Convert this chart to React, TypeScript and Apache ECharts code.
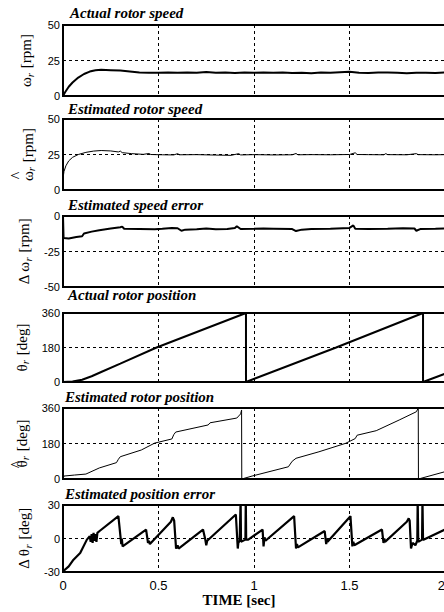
import React, { useEffect, useRef } from "react";
import * as echarts from "echarts";

const TITLES = [
  "Actual rotor speed",
  "Estimated rotor speed",
  "Estimated speed error",
  "Actual rotor position",
  "Estimated rotor position",
  "Estimated position error",
];

const X_TICKS = [0, 0.5, 1, 1.5, 2];

const speedActual: [number, number][] = [
  [0, 0], [0.01, 2.5], [0.03, 6.5], [0.05, 9.5], [0.08, 13], [0.11, 15.5], [0.14, 17.2],
  [0.17, 18.1], [0.2, 18.4], [0.25, 18.2], [0.3, 17.9], [0.35, 17.3], [0.4, 16.6],
  [0.45, 16.3], [0.5, 16.4], [0.55, 16.6], [0.6, 16.3], [0.65, 16.6], [0.7, 16.4],
  [0.75, 16.9], [0.8, 16.4], [0.85, 16.5], [0.9, 16.2], [0.95, 16.5], [1.0, 16.3],
  [1.05, 16.5], [1.1, 16.4], [1.15, 16.6], [1.2, 16.2], [1.25, 16.4], [1.3, 16.1],
  [1.35, 16.5], [1.4, 16.3], [1.45, 16.7], [1.5, 17.0], [1.55, 16.4], [1.6, 16.2],
  [1.65, 16.5], [1.7, 16.6], [1.75, 16.3], [1.8, 16.0], [1.85, 16.4], [1.9, 16.3],
  [1.95, 16.2], [2.0, 16.5],
];

const speedEstimated: [number, number][] = [
  [0, 8], [0.005, 13], [0.015, 17], [0.03, 20.5], [0.05, 23], [0.08, 25], [0.12, 26.5],
  [0.16, 27.4], [0.2, 27.8], [0.25, 27.5], [0.29, 26.8], [0.3, 27.4], [0.31, 26.3],
  [0.36, 25.6], [0.42, 25.1], [0.45, 25.7], [0.46, 25.0], [0.52, 24.8], [0.58, 24.7],
  [0.6, 25.6], [0.61, 24.8], [0.7, 24.9], [0.8, 24.6], [0.88, 24.4], [0.92, 25.6],
  [0.93, 24.7], [1.0, 24.9], [1.1, 24.7], [1.2, 24.8], [1.22, 25.7], [1.23, 24.8],
  [1.3, 24.9], [1.4, 24.8], [1.5, 25.0], [1.53, 26.2], [1.54, 25.0], [1.6, 24.9],
  [1.68, 24.8], [1.69, 25.6], [1.7, 24.9], [1.8, 24.8], [1.85, 25.6], [1.86, 24.9],
  [1.95, 24.8], [2.0, 24.9],
];

const speedError: [number, number][] = [
  [0, 0], [0.003, -15.5], [0.03, -15.8], [0.07, -14.8], [0.1, -14.3], [0.11, -12.3],
  [0.15, -11], [0.19, -10], [0.25, -8.8], [0.3, -7.9], [0.31, -7.5], [0.32, -9],
  [0.4, -9.1], [0.48, -9.4], [0.52, -9.0], [0.57, -8.4], [0.6, -8.6], [0.62, -10.4],
  [0.64, -9.6], [0.7, -9.3], [0.75, -8.8], [0.8, -9.4], [0.86, -9.2], [0.9, -8.4],
  [0.91, -7.2], [0.93, -9.2], [1.0, -9.0], [1.05, -8.8], [1.1, -8.9], [1.2, -9.2],
  [1.22, -10.6], [1.25, -9.6], [1.3, -9.2], [1.4, -8.9], [1.5, -8.4], [1.52, -6.6],
  [1.53, -9.0], [1.6, -9.1], [1.7, -9.0], [1.78, -8.6], [1.84, -8.8], [1.85, -10.4],
  [1.87, -9.2], [1.95, -9.0], [2.0, -8.8],
];

const posActual: [number, number][] = [
  [0, 60], [0, 0], [0.05, 3], [0.1, 12], [0.15, 30], [0.2, 52], [0.3, 96], [0.49, 180],
  [0.958, 360], [0.958, 0], [1.43, 180], [1.885, 360], [1.885, 0], [2.0, 43],
];

const posEstimated: [number, number][] = [
  [0, 0], [0.005, 15], [0.06, 20], [0.12, 25], [0.19, 56], [0.28, 83], [0.29, 100],
  [0.3, 113], [0.41, 147], [0.48, 182], [0.57, 203], [0.58, 225], [0.59, 238],
  [0.76, 274], [0.77, 285], [0.91, 309], [0.93, 330], [0.935, 350], [0.936, 0],
  [0.99, 15], [1.18, 62], [1.2, 90], [1.22, 105], [1.34, 138], [1.48, 181], [1.53, 205],
  [1.54, 222], [1.64, 245], [1.76, 299], [1.85, 341], [1.86, 360], [1.861, 0],
  [2.0, 37],
];

const posError: [number, number][] = [
  [0, -29], [0.01, -28], [0.03, -25], [0.055, -19], [0.09, -13], [0.125, -1], [0.14, 2],
  [0.145, -3], [0.15, 4], [0.155, -4], [0.16, 5], [0.165, -2], [0.17, 4], [0.175, -3],
  [0.18, 5], [0.19, 6.5], [0.29, 20], [0.305, -5], [0.308, 0], [0.312, -7], [0.435, 8],
  [0.445, -4], [0.45, -2], [0.455, -5], [0.565, 15], [0.575, 19], [0.582, 16],
  [0.592, -9], [0.6, -6], [0.605, -9], [0.733, 8], [0.745, -1], [0.75, -6], [0.755, -2],
  [0.905, 21.5], [0.915, -9], [0.918, -4], [0.925, -2], [0.93, 35], [0.932, -3],
  [0.955, -1], [0.957, 35], [0.959, -1], [0.97, -1], [1.045, 8], [1.05, -7],
  [1.055, 1], [1.06, -2], [1.21, 20], [1.22, -9], [1.225, -5], [1.23, -8], [1.37, 6.7],
  [1.378, -5], [1.382, 0], [1.385, -3], [1.505, 20], [1.515, -7], [1.52, -3],
  [1.525, -6], [1.67, 8], [1.678, -4], [1.682, 0], [1.686, -3], [1.8, 15], [1.81, 18],
  [1.815, 16], [1.822, -9], [1.83, -4], [1.845, -6], [1.855, -2], [1.857, 35],
  [1.86, -3], [1.88, -1], [1.882, 35], [1.885, -1], [1.89, -1], [2.0, 8],
];

const SERIES = [speedActual, speedEstimated, speedError, posActual, posEstimated, posError];
const LINE_WIDTHS = [2, 1, 2, 2, 1, 2.2];

const Y_MIN = [0, 0, -50, 0, 0, -30];
const Y_MAX = [50, 50, 0, 360, 360, 30];
const Y_STEP = [25, 25, 25, 180, 180, 30];

const Y_NAMES = [
  "{m|ω}{s|r}{m| [rpm]}",
  "{m|ω}{s|r}{m| [rpm]}",
  "{m|Δ ω}{s|r}{m| [rpm]}",
  "{m|θ}{s|r}{m| [deg]}",
  "{m|θ}{s|r}{m| [deg]}",
  "{m|Δ θ}{s|r}{m| [deg]}",
];
const HAT_PANELS = [1, 4];

const GRID_TOPS = [25, 119, 216, 313, 408, 505];
const GRID_HEIGHTS = [71, 71, 71, 69, 71, 67];
const TITLE_POS = [
  [70, 14],
  [68, 110],
  [68, 206],
  [68, 296],
  [65, 398.5],
  [65, 495.5],
];

export default function App() {
  const ref = useRef<HTMLDivElement>(null);
  useEffect(() => {
    document.body.style.margin = "0";
    const chart = echarts.init(ref.current!, null, { renderer: "svg" });
    const dash = { type: [3, 3] as any, color: "#000", width: 1 };
    const grids = GRID_TOPS.map((top, i) => ({
      left: 63,
      width: 382,
      top,
      height: GRID_HEIGHTS[i],
      show: true,
      borderColor: "#000",
      borderWidth: 2,
      backgroundColor: "transparent",
      containLabel: false,
      outerBoundsMode: "none",
    }));
    const xAxes = GRID_TOPS.map((_, i) => ({
      type: "value",
      gridIndex: i,
      min: X_TICKS[0],
      max: X_TICKS[X_TICKS.length - 1],
      interval: 0.5,
      axisLine: { show: false },
      axisTick: { show: false },
      splitLine: { show: true, lineStyle: dash },
      axisLabel: {
        show: i === 5,
        color: "#000",
        fontFamily: "Liberation Sans",
        fontSize: 13,
        margin: 7,
        alignMaxLabel: "right",
        formatter: (v: number) => String(v),
      },
    }));
    const yAxes = GRID_TOPS.map((_, i) => ({
      type: "value",
      gridIndex: i,
      min: Y_MIN[i],
      max: Y_MAX[i],
      interval: Y_STEP[i],
      axisLine: { show: false },
      axisTick: { show: false },
      splitLine: { show: true, lineStyle: dash },
      axisLabel: {
        color: "#000",
        fontFamily: "Liberation Sans",
        fontSize: 11,
        margin: 3,
      },
      name: Y_NAMES[i],
      nameLocation: "middle",
      nameGap: HAT_PANELS.includes(i) ? 24 : 28,
      nameRotate: 90,
      nameTextStyle: {
        rich: {
          m: { fontFamily: "Liberation Serif", fontSize: 15, color: "#000", lineHeight: 18 },
          s: {
            fontFamily: "Liberation Serif",
            fontStyle: "italic",
            fontSize: 11,
            color: "#000",
            lineHeight: 18,
            verticalAlign: "bottom",
            padding: [6, 1, 0, 0],
          },
        },
      },
    }));
    const series = SERIES.map((data, i) => ({
      type: "line",
      xAxisIndex: i,
      yAxisIndex: i,
      data,
      showSymbol: false,
      symbol: "none",
      clip: true,
      lineStyle: { color: "#000", width: LINE_WIDTHS[i] },
    }));
    const graphic: any[] = TITLES.map((t, i) => ({
      type: "text",
      left: TITLE_POS[i][0],
      top: TITLE_POS[i][1] - 9,
      style: {
        text: t,
        fontFamily: "Liberation Serif",
        fontStyle: "italic",
        fontWeight: "bold",
        fontSize: 15,
        fill: "#000",
      },
    }));
    HAT_PANELS.forEach((i) => {
      const cy = GRID_TOPS[i] + GRID_HEIGHTS[i] / 2;
      graphic.push({
        type: "text",
        x: 16,
        y: cy + 21,
        rotation: Math.PI / 2,
        style: {
          text: "^",
          fontFamily: "Liberation Serif",
          fontSize: 16,
          fill: "#000",
          align: "center",
          verticalAlign: "middle",
        },
      });
    });
    graphic.push({
      type: "text",
      x: 239,
      y: 600,
      style: {
        text: "TIME [sec]",
        fontFamily: "Liberation Serif",
        fontWeight: "bold",
        fontSize: 15,
        fill: "#000",
        align: "center",
        verticalAlign: "middle",
      },
    });
    chart.setOption({
      animation: false,
      backgroundColor: "#fff",
      grid: grids,
      xAxis: xAxes,
      yAxis: yAxes,
      series,
      graphic,
    });
    return () => chart.dispose();
  }, []);
  return <div ref={ref} style={{ width: 444, height: 612 }} />;
}
